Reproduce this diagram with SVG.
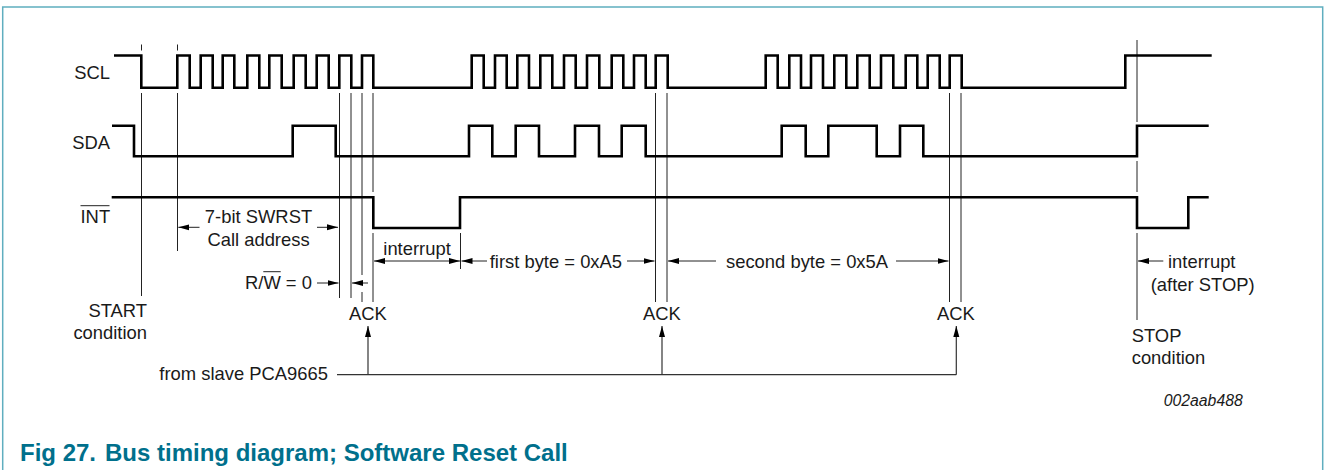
<svg xmlns="http://www.w3.org/2000/svg" width="1324" height="470" viewBox="0 0 1324 470">
<defs>
<marker id="ah" markerUnits="userSpaceOnUse" markerWidth="12" markerHeight="8" refX="11" refY="4" orient="auto"><path d="M0,1 L11,4 L0,7 Z" fill="#000"/></marker>
</defs>
<style>
text{font-family:"Liberation Sans",Arial,sans-serif;font-size:18.4px;fill:#1a1a1a}
.sig{fill:none;stroke:#000;stroke-width:2.6}
.v{fill:none;stroke:#222;stroke-width:1}
.a{fill:none;stroke:#222;stroke-width:1;marker-end:url(#ah)}
.o{fill:none;stroke:#222;stroke-width:1}
.l{fill:none;stroke:#333;stroke-width:1.2}
.cap{font-size:24px;font-weight:bold;fill:#00708c}
</style>
<rect width="1324" height="470" fill="#fff"/>
<path d="M2.7,470 V7 H1322.7 V470" fill="none" stroke="#5faebf" stroke-width="1.5"/>
<g id="guides">
<path class="v" d="M141.5,44.5V50.5M141.5,93V296M177.5,44.5V50.5M177.5,93V251M339.5,93V298M351,93V298M362,93V275M362,292V302M373,93V192M373,233V302M460.5,233V269M655.5,93V302M667,93V302M949.5,93V302M961,93V302M1137,40V122M1137,161V192M1137,233V320"/>
</g>
<g id="SCL">
<path class="sig" d="M114,55.5H141.3V87.7H177.3V55.5H189.7V87.7H200.7V55.5H212.7V87.7H222.7V55.5H234.3V87.7H247.3V55.5H259.3V87.7H269.3V55.5H281.7V87.7H293.7V55.5H305.7V87.7H316.7V55.5H328.7V87.7H339.3V55.5H351.3V87.7H362V55.5H373.3V87.7H471.7V55.5H483.7V87.7H495V55.5H506.7V87.7H517.3V55.5H529V87.7H540.3V55.5H552.3V87.7H564V55.5H575.7V87.7H587V55.5H599.3V87.7H611.7V55.5H623.3V87.7H634V55.5H645.7V87.7H655.7V55.5H667.7V87.7H765.7V55.5H777.7V87.7H789.3V55.5H801V87.7H811V55.5H823V87.7H834.3V55.5H846.3V87.7H857.3V55.5H869.7V87.7H881V55.5H893.3V87.7H905.7V55.5H917.3V87.7H927.7V55.5H939.7V87.7H949.7V55.5H961.7V87.7H1125.3V55.5H1211.7"/>
<text x="110" y="79" text-anchor="end">SCL</text>
</g>
<g id="SDA">
<path class="sig" d="M112,125.7H134V156.3H292.7V125.7H335.7V156.3H469V125.7H492.3V156.3H515.7V125.7H539V156.3H575V125.7H599V156.3H621.7V125.7H645.7V156.3H781.7V125.7H805.7V156.3H828.3V125.7H876.7V156.3H900V125.7H923.3V156.3H1137V125.7H1208.7"/>
<text x="110" y="149" text-anchor="end">SDA</text>
</g>
<g id="INT">
<path class="sig" d="M111.7,197.3H373.3V228H460V197.3H1137V228H1188.3V197.3H1208.7"/>
<text x="80.5" y="223">INT</text>
<path class="o" d="M80.5,205.7H109.5"/>
</g>
<g id="connectors">
<path class="a" d="M199.5,227.3H178.3"/>
<path class="a" d="M317,227.3H338"/>
<path class="a" d="M317,283H338.5"/>
<path class="a" d="M368,283H352"/>
<path class="a" d="M418,261H460"/>
<path class="a" d="M418,261H374"/>
<path class="a" d="M487,261H461.5"/>
<path class="a" d="M627,261H654.5"/>
<path class="a" d="M716,261H668"/>
<path class="a" d="M896,261H948.5"/>
<path class="a" d="M1163.3,261H1138"/>
<path class="l" d="M337,374.7H956.3"/>
<path class="l" d="M368,374.7V326" marker-end="url(#ah)"/>
<path class="l" d="M662,374.7V326" marker-end="url(#ah)"/>
<path class="l" d="M956.3,374.7V326" marker-end="url(#ah)"/>
</g>
<g id="labels">
<text x="258.5" y="223.3" text-anchor="middle">7-bit SWRST</text>
<text x="258.5" y="246" text-anchor="middle">Call address</text>
<text x="245" y="289">R/W = 0</text>
<path class="o" d="M263.3,271.7H280.7"/>
<text x="147" y="316.5" text-anchor="end">START</text>
<text x="147" y="338.5" text-anchor="end">condition</text>
<text x="349" y="320">ACK</text>
<text x="643" y="320">ACK</text>
<text x="937" y="320">ACK</text>
<text x="159.3" y="379.5">from slave PCA9665</text>
<text x="383.3" y="254.5">interrupt</text>
<text x="489.7" y="267.5">first byte = 0xA5</text>
<text x="726" y="267.5">second byte = 0x5A</text>
<text x="1168" y="267.5">interrupt</text>
<text x="1150.7" y="290.5">(after STOP)</text>
<text x="1131.7" y="341.5">STOP</text>
<text x="1131.7" y="363.5">condition</text>
<text x="1163.7" y="405.5" font-style="italic" style="font-size:15.8px">002aab488</text>
</g>
<text class="cap" x="20" y="460.5">Fig 27.</text>
<text class="cap" x="105" y="460.5">Bus timing diagram; Software Reset Call</text>
</svg>
